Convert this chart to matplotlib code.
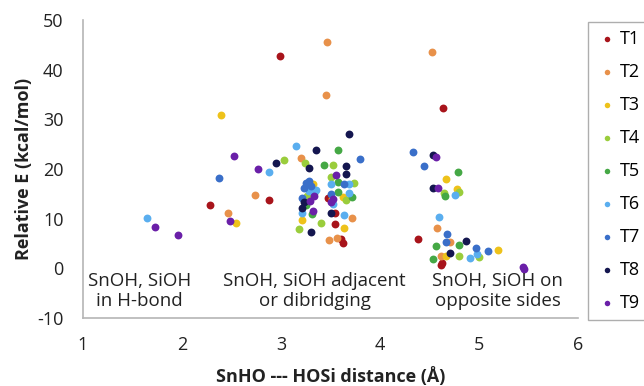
import matplotlib
matplotlib.use("Agg")
import matplotlib.pyplot as plt

series_names = ["T1", "T2", "T3", "T4", "T5", "T6", "T7", "T8", "T9"]
colors = ["#A8141B", "#E8914A", "#EEC21A", "#9ACD3C", "#45A845",
          "#5AAEEF", "#3A6FC9", "#14164F", "#6A1FA8"]

T1_x = [2.28, 2.88, 2.99, 4.64, 4.38, 4.63, 4.62, 3.47, 3.55, 3.55, 3.61, 3.63]
T1_y = [12.7, 13.8, 42.7, 32.3, 6.0, 1.0, 0.7, 14.2, 11.2, 8.9, 6.0, 5.1]
T2_x = [2.46, 2.74, 3.46, 3.45, 4.53, 3.20, 3.72, 3.48, 3.57, 4.58, 4.71, 4.62]
T2_y = [11.2, 14.7, 45.6, 35.0, 43.5, 22.2, 10.1, 5.8, 6.2, 8.1, 5.4, 2.5]
T3_x = [2.39, 2.55, 3.32, 3.63, 3.52, 3.21, 3.64, 4.67, 4.78, 5.19, 4.67]
T3_y = [30.9, 9.1, 17.0, 14.4, 14.0, 9.8, 8.1, 17.9, 15.9, 3.6, 2.4]
T4_x = [3.03, 3.24, 3.53, 3.50, 3.74, 3.66, 3.40, 3.18, 4.65, 4.80, 5.00, 4.80, 3.26]
T4_y = [21.8, 21.2, 20.8, 18.4, 17.2, 13.7, 9.1, 8.0, 15.2, 15.4, 2.3, 2.4, 14.6]
T5_x = [3.58, 3.43, 3.58, 3.33, 3.58, 3.72, 3.31, 4.79, 4.66, 4.57, 4.80, 4.54, 3.25]
T5_y = [23.9, 20.8, 17.4, 15.2, 15.4, 14.4, 11.0, 19.4, 14.5, 4.4, 4.6, 1.8, 12.8]
T6_x = [1.65, 2.88, 3.15, 3.50, 3.69, 3.28, 3.69, 3.53, 3.21, 3.64, 4.76, 4.60, 4.98, 4.91, 3.35]
T6_y = [10.1, 19.3, 24.7, 17.0, 16.9, 15.6, 15.2, 12.9, 11.2, 10.8, 14.7, 10.4, 2.9, 2.0, 15.8]
T7_x = [2.37, 3.80, 3.25, 3.28, 3.64, 3.23, 3.50, 3.21, 4.33, 4.44, 4.68, 4.67, 4.97, 5.09, 3.30]
T7_y = [18.1, 22.1, 17.2, 17.6, 16.9, 16.1, 15.0, 14.2, 23.5, 20.7, 7.0, 5.4, 4.1, 3.4, 16.5]
T8_x = [2.95, 3.69, 3.35, 3.28, 3.66, 3.66, 3.23, 3.21, 3.50, 3.30, 4.54, 4.54, 4.87, 4.71]
T8_y = [21.3, 27.1, 23.9, 20.2, 20.6, 18.9, 13.3, 12.2, 11.2, 7.4, 22.9, 16.1, 5.6, 3.0]
T9_x = [1.73, 1.96, 2.48, 2.53, 2.77, 3.56, 3.29, 3.50, 3.32, 4.57, 4.59, 5.44, 5.45, 3.33, 3.53]
T9_y = [8.3, 6.7, 9.6, 22.6, 20.0, 18.7, 13.5, 13.4, 11.5, 22.4, 16.2, 0.3, -0.1, 14.6, 14.0]

xs = [T1_x, T2_x, T3_x, T4_x, T5_x, T6_x, T7_x, T8_x, T9_x]
ys = [T1_y, T2_y, T3_y, T4_y, T5_y, T6_y, T7_y, T8_y, T9_y]

x_ticks = [1, 2, 3, 4, 5, 6]
y_ticks = [-10, 0, 10, 20, 30, 40, 50]

region_labels = ["SnOH, SiOH\nin H-bond", "SnOH, SiOH adjacent\nor dibridging",
                 "SnOH, SiOH on\nopposite sides"]
region_x = [1.57, 3.34, 5.19]

plt.rcParams['font.family'] = ['Open Sans', 'DejaVu Sans']
plt.rcParams['axes.unicode_minus'] = False

fig = plt.figure(figsize=(6.44, 3.86), dpi=100)
ax = fig.add_axes([83/644, 1 - 318/386, (578 - 83)/644, (318 - 20)/386])

for name, c, x, y in zip(series_names, colors, xs, ys):
    ax.scatter(x, y, s=32, color=c, label=name, linewidths=0, zorder=3)

ax.set_xlim(1, 6)
ax.set_ylim(-10, 50)
ax.set_xticks(x_ticks)
ax.set_yticks(y_ticks)
ax.tick_params(length=0, labelsize=13, colors="#222222")
ax.tick_params(axis='y', pad=14)
ax.tick_params(axis='x', pad=13)
for s in ["top", "right"]:
    ax.spines[s].set_visible(False)
for s in ["left", "bottom"]:
    ax.spines[s].set_color("#b5b5b5")
    ax.spines[s].set_linewidth(1.2)

for lab, xp in zip(region_labels, region_x):
    ax.text(xp, -4.6, lab, ha="center", va="center", fontsize=13.5,
            color="#222222", linespacing=1.15)

ax.set_ylabel("Relative E (kcal/mol)", fontsize=13, fontweight="bold",
              color="#222222", labelpad=3)
ax.set_xlabel("SnHO --- HOSi distance (Å)", fontsize=13, fontweight="bold",
              color="#222222", labelpad=9)

leg = fig.legend(loc="upper left", bbox_to_anchor=(588/644, 1 - 22/386),
                 fontsize=13, frameon=True, fancybox=False,
                 labelspacing=0.83, handletextpad=0.1, borderpad=0.45,
                 markerscale=0.7, handlelength=1.2, borderaxespad=0)
leg.get_frame().set_edgecolor("#9a9a9a")
leg.get_frame().set_linewidth(1.0)

fig.savefig("out.png", dpi=100)
